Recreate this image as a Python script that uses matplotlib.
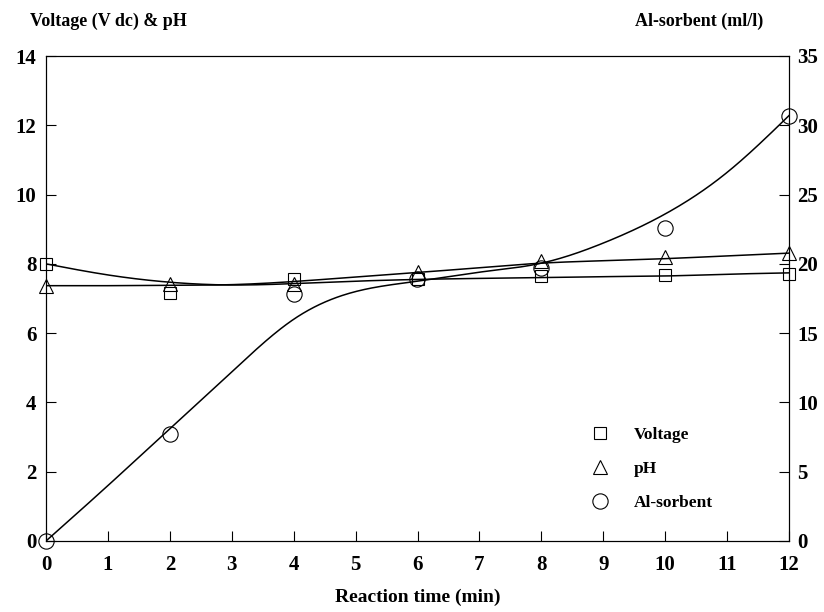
import numpy as np
import matplotlib
matplotlib.use("Agg")
import matplotlib.pyplot as plt

# measured data points
time_min = [0, 2, 4, 6, 8, 10, 12]
voltage = [8.0, 7.15, 7.55, 7.55, 7.65, 7.68, 7.72]
ph = [7.35, 7.42, 7.42, 7.77, 8.08, 8.2, 8.3]
al_sorbent = [0.0, 7.7, 17.8, 18.9, 19.7, 22.6, 30.7]

# fitted trend curves (values at each minute)
fit_time = list(range(0, 13))
voltage_fit = [8.0, 7.68, 7.47, 7.39, 7.43, 7.5, 7.55, 7.58, 7.6, 7.63, 7.65, 7.7, 7.74]
ph_fit = [7.37, 7.37, 7.38, 7.4, 7.49, 7.62, 7.75, 7.89, 8.02, 8.09, 8.15, 8.23, 8.31]
al_fit = [0.0, 4.0, 8.1, 12.2, 16.0, 18.0, 18.75, 19.4, 20.05, 21.5, 23.6, 26.6, 30.7]

xticks = list(range(0, 13))
left_ticks = [0, 2, 4, 6, 8, 10, 12, 14]
right_ticks = [0, 5, 10, 15, 20, 25, 30, 35]


def natural_spline(x, y, xs):
    x = np.asarray(x, float)
    y = np.asarray(y, float)
    n = len(x)
    h = np.diff(x)
    A = np.zeros((n, n))
    b = np.zeros(n)
    A[0, 0] = A[-1, -1] = 1
    for i in range(1, n - 1):
        A[i, i - 1] = h[i - 1]
        A[i, i] = 2 * (h[i - 1] + h[i])
        A[i, i + 1] = h[i]
        b[i] = 3 * ((y[i + 1] - y[i]) / h[i] - (y[i] - y[i - 1]) / h[i - 1])
    c = np.linalg.solve(A, b)
    bb = (np.diff(y) / h) - h * (2 * c[:-1] + c[1:]) / 3
    d = np.diff(c) / (3 * h)
    idx = np.clip(np.searchsorted(x, xs) - 1, 0, n - 2)
    dx = xs - x[idx]
    return y[idx] + bb[idx] * dx + c[idx] * dx ** 2 + d[idx] * dx ** 3


plt.rcParams['font.family'] = ['Liberation Serif', 'DejaVu Serif']
plt.rcParams['font.weight'] = 'bold'

fig = plt.figure(figsize=(8.24, 6.12), dpi=100)
ax = fig.add_axes([46/824, 1-541/612, (789-46)/824, (541-56)/612])
ax2 = ax.twinx()

xs = np.linspace(0, 12, 400)
ax.plot(xs, natural_spline(fit_time, voltage_fit, xs), color='black', lw=1.1)
ax.plot(xs, natural_spline(fit_time, ph_fit, xs), color='black', lw=1.1)
ax2.plot(xs, natural_spline(fit_time, al_fit, xs), color='black', lw=1.1)

mk = dict(linestyle='none', markerfacecolor='none', markeredgecolor='black',
          markeredgewidth=0.8, clip_on=False)
ax.plot(time_min, voltage, marker='s', markersize=8.5, label='Voltage', **mk)
ax.plot(time_min, ph, marker='^', markersize=10, label='pH', **mk)
ax2.plot(time_min, al_sorbent, marker='o', markersize=11, label='Al-sorbent', **mk)

ax.set_xlim(0, 12)
ax.set_ylim(0, 14)
ax2.set_ylim(0, 35)
ax.set_xticks(xticks)
ax.set_yticks(left_ticks)
ax2.set_yticks(right_ticks)
for a in (ax, ax2):
    a.tick_params(direction='in', length=7, width=0.8, labelsize=15)
    for lab in a.get_xticklabels() + a.get_yticklabels():
        lab.set_fontweight('bold')
ax.tick_params(axis='x', pad=10)
ax.tick_params(axis='y', pad=7)
ax2.tick_params(axis='y', pad=6)
for a in (ax, ax2):
    for s in a.spines.values():
        s.set_linewidth(0.8)

ax.set_xlabel('Reaction time (min)', fontsize=14, fontweight='bold', labelpad=10)
fig.text(30/824, 1-21/612, 'Voltage (V dc) & pH', fontsize=13, fontweight='bold', va='center', ha='left')
fig.text(763/824, 1-21/612, 'Al-sorbent (ml/l)', fontsize=13, fontweight='bold', va='center', ha='right')

h1, l1 = ax.get_legend_handles_labels()
h2, l2 = ax2.get_legend_handles_labels()
leg = fig.legend(h1 + h2, l1 + l2, loc='upper left', bbox_to_anchor=(587/824, 1-427/612),
                 frameon=False, fontsize=12.5, handlelength=1.5, handletextpad=1.2,
                 labelspacing=1.02, numpoints=1, borderpad=0, borderaxespad=0)
for t in leg.get_texts():
    t.set_fontweight('bold')

fig.savefig('out.png', dpi=100)
